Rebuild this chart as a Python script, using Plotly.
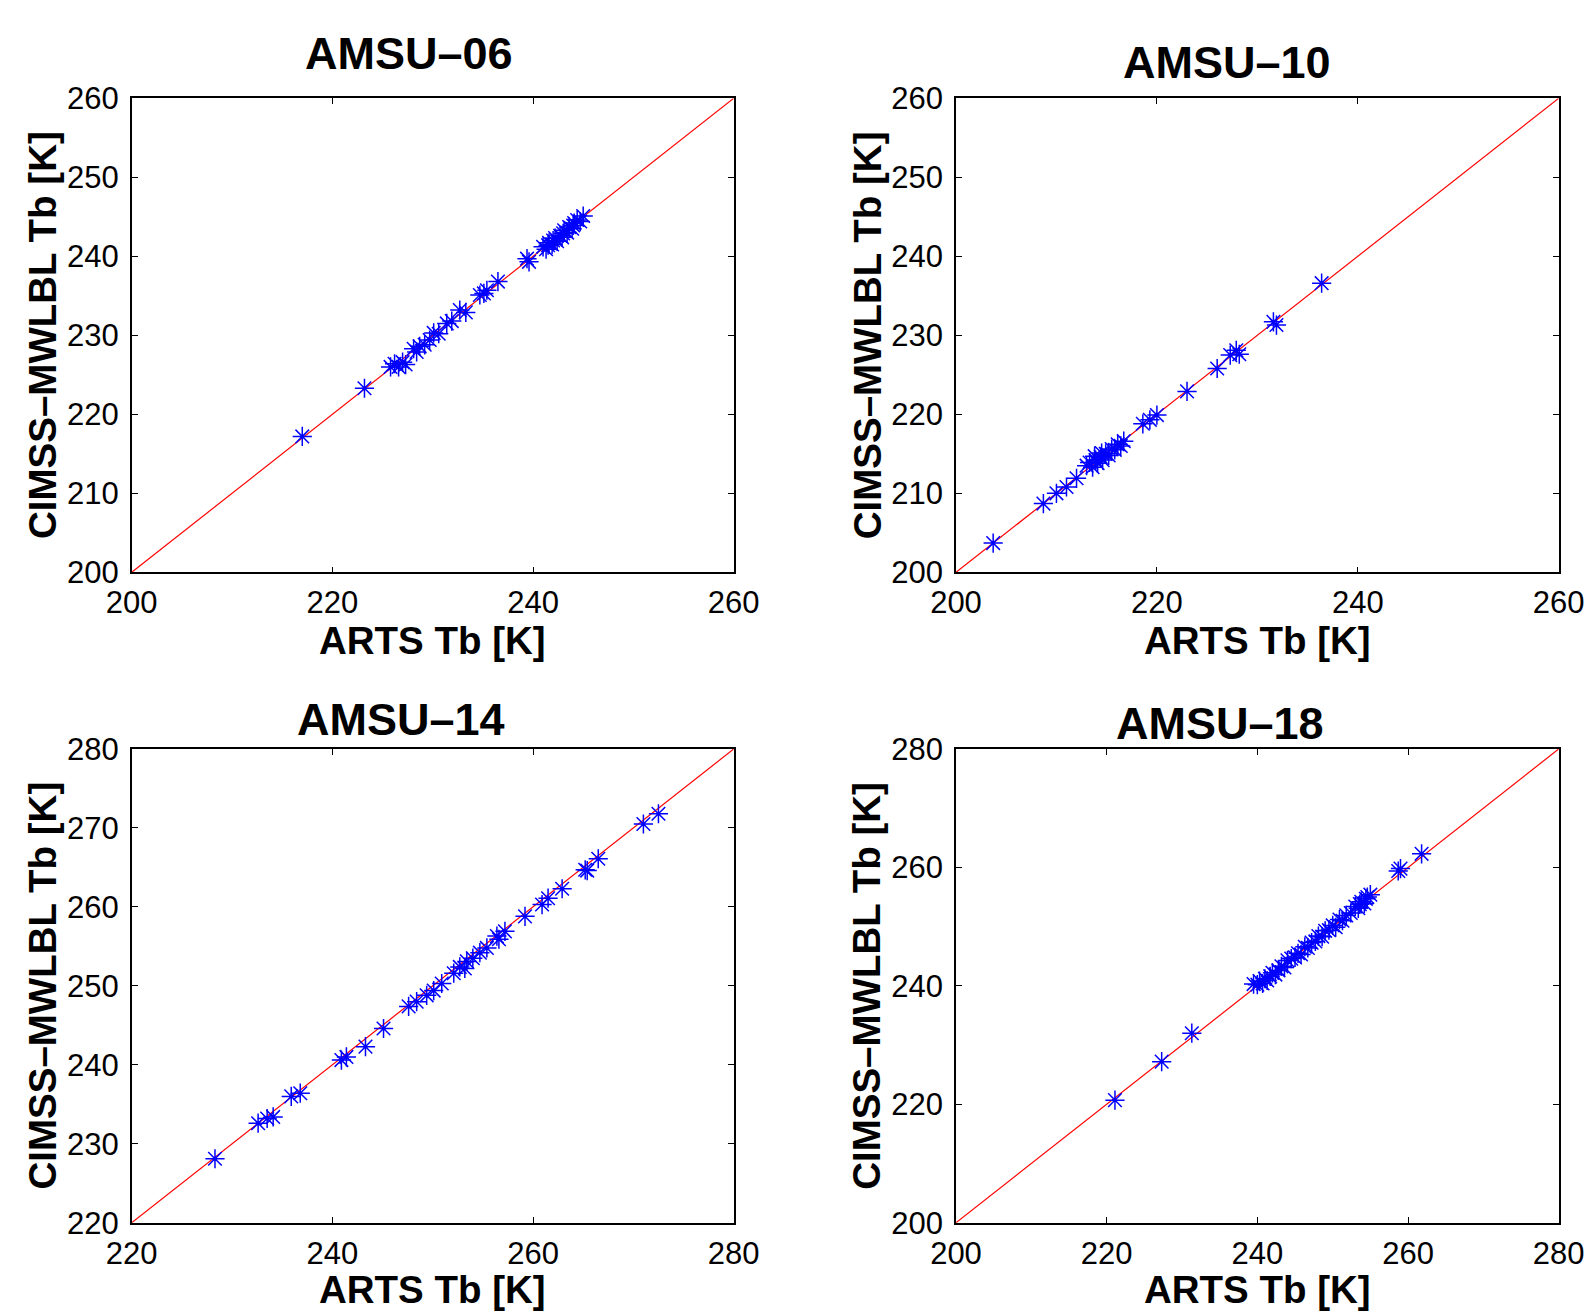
import plotly.graph_objects as go

W, H = 1587, 1311

titles = ["AMSU\u201306", "AMSU\u201310", "AMSU\u201314", "AMSU\u201318"]
xlabel = "ARTS Tb [K]"
ylabel = "CIMSS\u2013MWLBL Tb [K]"

# panel ranges and ticks
ranges = [(200, 260), (200, 260), (220, 280), (200, 280)]
xticks = [[200, 220, 240, 260], [200, 220, 240, 260], [220, 240, 260, 280], [200, 220, 240, 260, 280]]
yticks = [[200, 210, 220, 230, 240, 250, 260], [200, 210, 220, 230, 240, 250, 260],
          [220, 230, 240, 250, 260, 270, 280], [200, 220, 240, 260, 280]]

# AMSU-06
arts06 = [217.0, 223.2, 225.8, 226.2, 226.6, 227.0, 227.3, 228.1, 228.4, 228.7, 229.2, 229.7,
          230.1, 230.6, 231.4, 231.9, 232.7, 233.3, 234.7, 235.4, 235.1, 236.5, 239.4, 239.6,
          241.0, 241.3, 241.6, 241.9, 242.2, 242.4, 242.7, 242.9, 243.1, 243.4, 243.6, 243.9,
          244.1, 244.4, 244.7, 245.0, 242.0, 243.0, 244.0, 241.5]
cimss06 = [217.2, 223.3, 226.0, 226.4, 226.0, 226.6, 226.3, 228.3, 227.9, 228.6, 228.8, 229.4,
           230.3, 230.2, 231.5, 231.8, 233.2, 232.9, 235.1, 235.7, 235.3, 236.8, 239.7, 239.3,
           241.2, 240.9, 241.7, 241.5, 242.3, 241.9, 242.6, 242.4, 243.3, 243.0, 243.7, 243.5,
           244.2, 244.6, 244.4, 245.1, 242.0, 242.9, 243.9, 241.4]

# AMSU-10
arts10 = [203.7, 208.7, 210.0, 211.0, 212.0, 213.0, 213.3, 213.6, 213.9, 214.1, 214.4, 214.6,
          214.9, 215.2, 215.5, 215.8, 216.1, 216.4, 216.7, 213.8, 214.5, 218.6, 219.3, 220.0,
          223.0, 226.0, 227.3, 227.9, 228.2, 231.6, 231.9, 236.4]
cimss10 = [203.7, 208.7, 210.0, 210.8, 211.9, 213.5, 213.9, 213.3, 214.2, 213.8, 214.6, 214.2,
           215.0, 214.8, 215.6, 215.5, 216.2, 216.0, 216.6, 214.7, 215.1, 218.8, 219.3, 219.9,
           222.9, 225.8, 227.5, 228.1, 227.6, 231.7, 231.3, 236.6]

# AMSU-14
arts14 = [228.3, 232.6, 233.5, 234.1, 235.9, 236.8, 240.9, 241.4, 243.3, 245.1, 247.6, 248.4,
          249.4, 250.1, 250.9, 252.1, 252.7, 253.4, 254.0, 253.2, 254.7, 255.4, 256.4, 257.2,
          256.6, 259.2, 260.9, 261.5, 262.9, 265.2, 265.4, 266.5, 271.0, 272.5]
cimss14 = [228.1, 232.6, 233.2, 233.4, 236.0, 236.4, 240.6, 241.0, 242.3, 244.6, 247.4, 248.0,
           248.8, 249.4, 250.3, 251.6, 252.4, 253.1, 253.5, 252.2, 254.2, 254.8, 256.3, 256.9,
           255.9, 258.8, 260.3, 261.1, 262.3, 264.7, 264.6, 266.1, 270.5, 271.8]

# AMSU-18
arts18 = [221.1, 227.3, 231.3, 239.5, 240.0, 240.3, 240.7, 241.0, 241.3, 241.7, 242.0, 242.4,
          242.8, 243.2, 243.6, 244.0, 244.5, 245.0, 245.4, 245.8, 246.3, 246.7, 247.2, 247.7,
          248.1, 248.6, 249.0, 249.5, 250.0, 250.4, 250.9, 251.3, 251.8, 252.4, 253.0, 253.4,
          253.8, 254.2, 254.6, 255.0, 254.4, 253.6, 258.7, 259.0, 261.8]
cimss18 = [220.7, 227.2, 232.0, 240.3, 240.2, 240.8, 240.4, 241.2, 240.9, 241.6, 242.2, 241.9,
           242.6, 243.3, 243.1, 244.3, 244.6, 244.8, 245.5, 245.3, 246.6, 246.4, 247.3, 247.5,
           248.4, 248.3, 249.3, 249.4, 250.2, 249.9, 251.2, 251.0, 251.9, 252.3, 253.4, 253.1,
           254.2, 253.9, 255.0, 255.4, 254.7, 253.8, 259.4, 259.8, 262.3]

xs = [arts06, arts10, arts14, arts18]
ys = [cimss06, cimss10, cimss14, cimss18]

# layout geometry (pixels)
px_left = [131.7, 956.0, 131.7, 956.0]
px_right = [733.7, 1558.7, 733.7, 1558.7]
px_top = [98.3, 98.3, 749.0, 749.0]
px_bot = [572.3, 572.3, 1222.7, 1222.7]
title_pos = [(409, 54), (1227, 63), (401, 719), (1220, 723)]
xlab_off = [68.5, 68.5, 66.5, 66.5]

FONT = "Liberation Sans, Arial, Helvetica, sans-serif"

fig = go.Figure()
annotations = []
for i in range(4):
    ax = "" if i == 0 else str(i + 1)
    lo, hi = ranges[i]
    fig.add_trace(go.Scatter(x=[lo, hi], y=[lo, hi], mode="lines",
                             line=dict(color="#ff0000", width=1.2),
                             xaxis="x" + ax, yaxis="y" + ax, showlegend=False,
                             hoverinfo="skip"))
    fig.add_trace(go.Scatter(x=xs[i], y=ys[i], mode="markers",
                             marker=dict(symbol="asterisk-open", size=16, color="#0000ff",
                                         line=dict(color="#0000ff", width=1.5)),
                             xaxis="x" + ax, yaxis="y" + ax, showlegend=False))
    axis_common = dict(showgrid=False, zeroline=False, showline=True, linecolor="black",
                       linewidth=1.6, mirror="ticks", ticks="inside", ticklen=6,
                       tickwidth=1.3, tickcolor="black", automargin=False,
                       tickfont=dict(family=FONT, size=31, color="black"))
    fig.update_layout(**{
        "xaxis" + ax: dict(domain=[px_left[i] / W, px_right[i] / W], range=[lo, hi],
                           tickvals=xticks[i], anchor="y" + ax, ticklabelstandoff=2,
                           **axis_common),
        "yaxis" + ax: dict(domain=[1 - px_bot[i] / H, 1 - px_top[i] / H], range=[lo, hi],
                           tickvals=yticks[i], anchor="x" + ax, ticklabelstandoff=5,
                           **axis_common),
    })
    cx = (px_left[i] + px_right[i]) / 2
    cy = (px_top[i] + px_bot[i]) / 2
    # title
    annotations.append(dict(text="<b>" + titles[i] + "</b>", x=title_pos[i][0] / W,
                            y=1 - title_pos[i][1] / H, xref="paper", yref="paper",
                            xanchor="center", yanchor="middle", showarrow=False,
                            font=dict(family=FONT, size=45, color="black")))
    # x label
    annotations.append(dict(text="<b>" + xlabel + "</b>", x=cx / W,
                            y=1 - (px_bot[i] + xlab_off[i]) / H, xref="paper", yref="paper",
                            xanchor="center", yanchor="middle", showarrow=False,
                            font=dict(family=FONT, size=38.5, color="black")))
    # y label
    annotations.append(dict(text="<b>" + ylabel + "</b>", x=(px_left[i] - 89) / W,
                            y=1 - cy / H, xref="paper", yref="paper", textangle=-90,
                            xanchor="center", yanchor="middle", showarrow=False,
                            font=dict(family=FONT, size=38.5, color="black")))

fig.update_layout(width=W, height=H, autosize=False,
                  margin=dict(l=0, r=0, t=0, b=0, autoexpand=False),
                  paper_bgcolor="white", plot_bgcolor="white",
                  annotations=annotations)

fig.write_html("out.html", config={"displayModeBar": False},
               post_script="document.body.style.margin='0';document.body.style.overflow='hidden';")
